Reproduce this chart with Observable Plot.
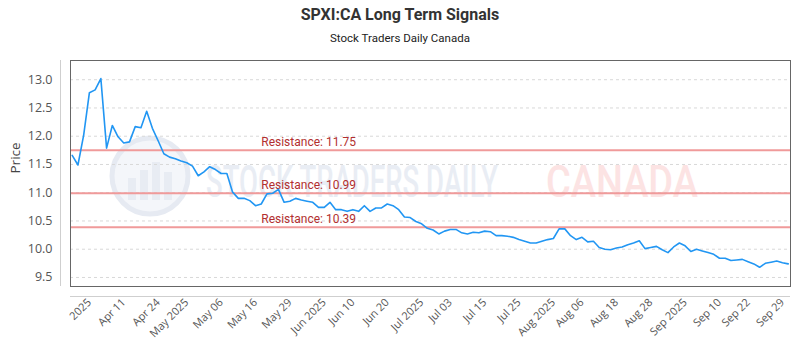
<!DOCTYPE html>
<html>
<head>
<meta charset="utf-8">
<script src="https://cdn.jsdelivr.net/npm/d3@7"></script>
<script src="https://cdn.jsdelivr.net/npm/@observablehq/plot@0.6"></script>
<style>
  html, body { margin: 0; padding: 0; background: #fff; }
  #wrap { position: relative; width: 800px; height: 350px; font-family: Roboto, "Open Sans", sans-serif; }
  #head { height: 50px; text-align: center; color: #333; }
  #title { font-size: 16px; font-weight: bold; padding-top: 5px; line-height: 20px; }
  #subtitle { font-size: 11.5px; margin-top: 6px; line-height: 14px; color: #222; }
  #wm { position: absolute; left: 0; top: 0; }
  #chart { position: relative; }
  #chart svg { background: transparent !important; }
</style>
</head>
<body>
<div id="wrap">
  <svg id="wm" width="800" height="350">
    <circle cx="150" cy="176" r="38" fill="#f4f6fa" stroke="#e6eaf2" stroke-width="5"></circle>
    <rect x="128" y="178" width="8" height="22" fill="#e8ecf3"></rect>
    <rect x="140" y="170" width="8" height="30" fill="#e8ecf3"></rect>
    <rect x="152" y="162" width="8" height="38" fill="#e8ecf3"></rect>
    <rect x="164" y="172" width="8" height="28" fill="#e8ecf3"></rect>
    <g id="wm1" data-x="206" data-y="197" data-w="292"><text font-family="Roboto, sans-serif" font-weight="500" font-size="44" fill="#e9edf4">STOCK TRADERS DAILY</text></g>
    <g id="wm2" data-x="546" data-y="197" data-w="152"><text font-family="Roboto, sans-serif" font-weight="500" font-size="44" fill="#fce3e3">CANADA</text></g>
  </svg>
  <div id="head">
    <div id="title">SPXI:CA Long Term Signals</div>
    <div id="subtitle">Stock Traders Daily Canada</div>
  </div>
  <div id="chart"></div>
</div>
<script>
// Closing prices, one per trading session
const prices = [
  11.66, 11.49, 12.02, 12.77, 12.82, 13.02, 11.79, 12.19, 11.99, 11.88,
  11.90, 12.17, 12.15, 12.44, 12.14, 11.92, 11.69, 11.63, 11.60, 11.56,
  11.53, 11.47, 11.30, 11.37, 11.46, 11.41, 11.34, 11.34, 11.01, 10.90,
  10.90, 10.86, 10.77, 10.80, 10.98, 10.99, 11.06, 10.83, 10.85, 10.90,
  10.87, 10.85, 10.83, 10.74, 10.74, 10.83, 10.70, 10.70, 10.67, 10.70,
  10.67, 10.77, 10.67, 10.73, 10.73, 10.80, 10.77, 10.70, 10.57, 10.56,
  10.49, 10.45, 10.37, 10.34, 10.27, 10.32, 10.35, 10.35, 10.29, 10.27,
  10.30, 10.29, 10.32, 10.31, 10.24, 10.24, 10.23, 10.21, 10.17, 10.14,
  10.11, 10.11, 10.14, 10.17, 10.19, 10.36, 10.36, 10.24, 10.17, 10.21,
  10.13, 10.14, 10.03, 10.00, 9.99, 10.02, 10.04, 10.08, 10.11, 10.15,
  10.01, 10.03, 10.05, 9.99, 9.94, 10.04, 10.11, 10.06, 9.96, 10.00,
  9.97, 9.94, 9.91, 9.84, 9.84, 9.80, 9.81, 9.82, 9.78, 9.74,
  9.68, 9.75, 9.77, 9.79, 9.76, 9.74
];

// X tick positions (session index) and their labels
const xTickIndex = [3, 9, 15, 20, 26, 32, 38, 44, 49, 55, 61, 66, 72, 78, 84, 89, 95, 101, 107, 113, 118, 124];
const xTickLabels = ["2025", "Apr 11", "Apr 24", "May 2025", "May 06", "May 16", "May 29", "Jun 2025",
  "Jun 10", "Jun 20", "Jul 2025", "Jul 03", "Jul 15", "Jul 25", "Aug 2025", "Aug 06",
  "Aug 18", "Aug 28", "Sep 2025", "Sep 10", "Sep 22", "Sep 29"];

// Y ticks
const yTicks = [9.5, 10.0, 10.5, 11.0, 11.5, 12.0, 12.5, 13.0];

// Resistance levels
const resistance = [11.75, 10.99, 10.39];
const resistanceLabelIndex = 33;

// condense the watermark words to their target widths
for (const id of ["wm1", "wm2"]) {
  const g = document.getElementById(id);
  const t = g.querySelector("text");
  const w = t.getComputedTextLength();
  const s = (+g.dataset.w) / w;
  g.setAttribute("transform", `translate(${g.dataset.x},${g.dataset.y}) scale(${s},1)`);
}

const data = prices.map((p, i) => ({i, p}));
const labelMap = new Map(xTickIndex.map((t, k) => [t, xTickLabels[k]]));
const xDomain = [-0.3, prices.length - 1 + 0.4];
const yDomain = [9.34, 13.34];

const chart = Plot.plot({
  width: 800,
  height: 300,
  marginTop: 10,
  marginLeft: 70,
  marginRight: 10,
  marginBottom: 64,
  style: {fontFamily: "'Open Sans', Roboto, sans-serif", background: "transparent"},
  x: {domain: xDomain},
  y: {domain: yDomain},
  marks: [
    Plot.gridY(yTicks, {stroke: "#d8d8d8", strokeOpacity: 1, strokeDasharray: "3,3"}),
    Plot.ruleX([xDomain[0]], {dx: -10, stroke: "#cfcfcf"}),
    Plot.ruleY([yDomain[0]], {dy: 10, stroke: "#cfcfcf"}),
    Plot.axisY({ticks: yTicks, tickSize: 0, tickPadding: 18, fontSize: 12.5, fill: "#555",
      tickFormat: d => d.toFixed(1), label: null}),
    Plot.text(["Price"], {frameAnchor: "left", dx: -55, rotate: -90, text: d => d, fontSize: 13.5, fill: "#444"}),
    Plot.axisX({ticks: xTickIndex, tickSize: 0, tickPadding: 14, tickRotate: -45, fontSize: 11, fill: "#555",
      tickFormat: d => labelMap.get(d), label: null}),
    Plot.ruleY(resistance, {stroke: "#f09a9a", strokeWidth: 2}),
    Plot.text(resistance, {x: () => resistanceLabelIndex, y: d => d, text: d => `Resistance: ${d.toFixed(2)}`,
      textAnchor: "start", dy: -8, fill: "#b22f2f", fontSize: 12, fontFamily: "Roboto, sans-serif"}),
    Plot.lineY(data, {x: "i", y: "p", stroke: "#2196f3", strokeWidth: 1.6}),
    Plot.frame({stroke: "#666"})
  ]
});
document.getElementById("chart").appendChild(chart);
</script>
</body>
</html>
